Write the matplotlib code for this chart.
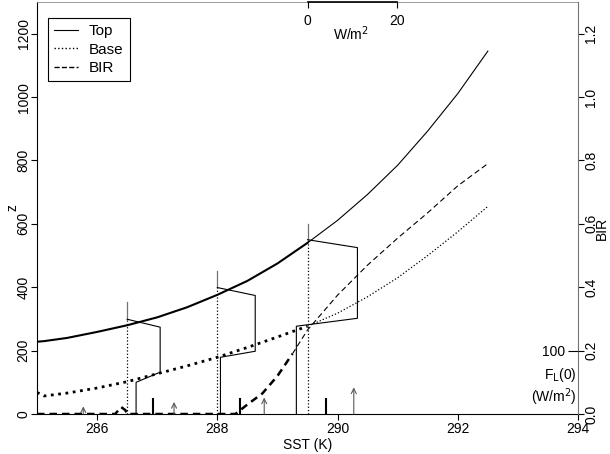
import matplotlib

matplotlib.use("Agg")
import matplotlib.pyplot as plt
import numpy as np

plt.rcParams["font.family"] = ["Liberation Sans", "DejaVu Sans"]
plt.rcParams["font.size"] = 10
NARROW = ["Liberation Sans Narrow", "Liberation Sans"]

# cloud top / base height against SST
sst = [285.0, 285.12, 285.5, 286.0, 286.5, 287.0, 287.5, 288.0, 288.5,
       289.0, 289.5, 290.0, 290.5, 291.0, 291.5, 292.0, 292.5]
top_z = [228, 230, 240, 259, 280, 305, 337, 376, 420,
         475, 540, 611, 693, 785, 893, 1011, 1145]
base_z = [68, 57, 66, 82, 102, 127, 152, 179, 210,
          243, 277, 318, 370, 430, 500, 575, 655]

# buoyancy integral ratio
bir_sst = [285.0, 286.3, 286.4, 286.47, 286.5, 288.3, 288.5, 288.75, 289.0,
           289.25, 289.5, 290.0, 290.5, 291.0, 291.5, 292.0, 292.5]
bir = [0.0, 0.0, 0.022, 0.012, 0.0, 0.0, 0.03, 0.065, 0.12,
       0.19, 0.265, 0.375, 0.47, 0.555, 0.635, 0.72, 0.79]

# radiative flux profiles (W/m2) drawn at three SSTs
prof_sst = [286.5, 288.0, 289.5]
prof_flux = [[0, 0, 7.4, 7.4, 2.0, 2.0],
             [0, 0, 8.5, 8.5, 0.7, 0.7],
             [0, 0, 11.2, 11.2, -2.5, -2.5]]
prof_z = [[352, 299, 274, 132, 100, 0],
          [450, 399, 374, 198, 179, 0],
          [600, 550, 525, 302, 277, 0]]

# surface flux F_L(0) (W/m2)
bar_sst = [286.93, 288.37, 289.8]
bar_flux = [26, 26, 26]
arrow_sst = [285.77, 287.28, 288.78, 290.27]
arrow_flux = [12, 19, 26, 42]

W_PER_K = 20 / 1.483  # flux-profile scale on the SST axis
SPLIT = 289.5         # thick/thin line break

fig = plt.figure(figsize=(6.10, 4.54), dpi=100)
ax = fig.add_axes([37 / 610, 1 - 414 / 454, 541 / 610, 412 / 454])

sst_a = np.array(sst)
lo = sst_a <= SPLIT + 0.01
hi = sst_a >= SPLIT - 0.01
ax.plot(sst_a[lo], np.array(top_z)[lo], "-", color="black", lw=1.5)
ax.plot(sst_a[hi], np.array(top_z)[hi], "-", color="black", lw=0.8)
ax.plot(sst_a[lo], np.array(base_z)[lo], ":", color="black", lw=2.0)
ax.plot(sst_a[hi], np.array(base_z)[hi], ":", color="black", lw=0.9)

for x0, fl, zz in zip(prof_sst, prof_flux, prof_z):
    xs = x0 + np.array(fl) / W_PER_K
    ax.plot(xs[:2], zz[:2], color="0.45", lw=0.9)
    ax.plot(xs[1:], zz[1:], color="black", lw=0.8)
    ax.plot([x0, x0], [0, zz[1]], ":", color="black", lw=0.9)

ax.set_xlim(285, 294)
ax.set_ylim(0, 1300)
ax.set_xticks([286, 288, 290, 292, 294])
ax.set_yticks(np.arange(0, 1201, 200))
ax.set_xlabel("SST (K)", labelpad=1)
ax.set_ylabel("z", family=NARROW, va="center")
ax.yaxis.set_label_coords(-0.045, 0.5)
ax.tick_params(length=4, width=0.8, pad=2)
ax.tick_params(axis="y", pad=0.5)
plt.setp(ax.get_yticklabels(), rotation=90, va="center", family=NARROW)
ax.spines["top"].set_color("0.55")
ax.spines["top"].set_linewidth(0.6)
ax.spines["right"].set_visible(False)

# BIR on the right axis
ax_r = ax.twinx()
b_sst = np.array(bir_sst)
b = np.array(bir)
blo = b_sst <= 289.3
bhi = b_sst >= 289.25
ax_r.plot(b_sst[blo], b[blo], "--", color="black", lw=1.8, dashes=(3, 2))
ax_r.plot(b_sst[bhi], b[bhi], "--", color="black", lw=0.8, dashes=(5, 3))
ax_r.set_ylim(0, 1.3)
ax_r.set_yticks(np.arange(0, 1.21, 0.2))
ax_r.set_yticklabels([f"{v:.1f}" for v in np.arange(0, 1.21, 0.2)])
ax_r.set_ylabel("BIR", family=NARROW, va="center")
ax_r.yaxis.set_label_coords(1.045, 0.45)
ax_r.tick_params(length=4, width=0.8, pad=0.5)
plt.setp(ax_r.get_yticklabels(), rotation=90, va="center", family=NARROW)
for side in ("top", "left", "bottom"):
    ax_r.spines[side].set_visible(False)
ax_r.spines["right"].set_color("0.45")
ax_r.spines["right"].set_linewidth(0.8)

# surface flux scale, inside the right edge
ax_f = ax.twinx()
ax_f.set_ylim(0, 650)
ax_f.vlines(bar_sst, 0, bar_flux, color="black", lw=1.5)
for x, h in zip(arrow_sst, arrow_flux):
    ax_f.annotate("", xy=(x, h), xytext=(x, 0),
                  arrowprops=dict(arrowstyle="->", color="0.35", lw=0.8,
                                  shrinkA=0, shrinkB=0, mutation_scale=9))
ax_f.set_yticks([100])
ax_f.tick_params(axis="y", direction="in", length=7, width=0.8, pad=-9)
plt.setp(ax_f.get_yticklabels(), ha="right")
for side in ax_f.spines:
    ax_f.spines[side].set_visible(False)
ax_f.text(0.997, 0.095, r"F$_\mathrm{L}$(0)", transform=ax_f.transAxes,
          ha="right", va="center")
ax_f.text(0.997, 0.04, r"(W/m$^2$)", transform=ax_f.transAxes,
          ha="right", va="center")

# flux-profile scale along the top
ax_t = ax.twiny()
ax_t.set_xlim((285 - 289.5) * W_PER_K, (294 - 289.5) * W_PER_K)
ax_t.set_xticks([0, 20])
ax_t.tick_params(axis="x", direction="in", length=4, width=0.8, pad=-19)
for side in ("left", "right", "bottom"):
    ax_t.spines[side].set_visible(False)
ax_t.spines["top"].set_bounds(0, 20)
ax_t.spines["top"].set_linewidth(1.2)
ax_t.text(0.58, 0.922, r"W/m$^2$", transform=ax_t.transAxes,
          ha="center", va="center")

handles = [
    plt.Line2D([], [], ls="-", color="black", lw=0.8),
    plt.Line2D([], [], ls=":", color="black", lw=1.0),
    plt.Line2D([], [], ls="--", color="black", lw=1.0),
]
leg = ax_t.legend(handles, ["Top", "Base", "BIR"], loc="upper left",
                  bbox_to_anchor=(0.02, 0.961), borderaxespad=0,
                  fancybox=False, edgecolor="black", framealpha=1,
                  fontsize=11, handlelength=1.6, handletextpad=0.7,
                  labelspacing=0.3, borderpad=0.4)
leg.get_frame().set_linewidth(0.8)

fig.savefig("out.png", dpi=100)
